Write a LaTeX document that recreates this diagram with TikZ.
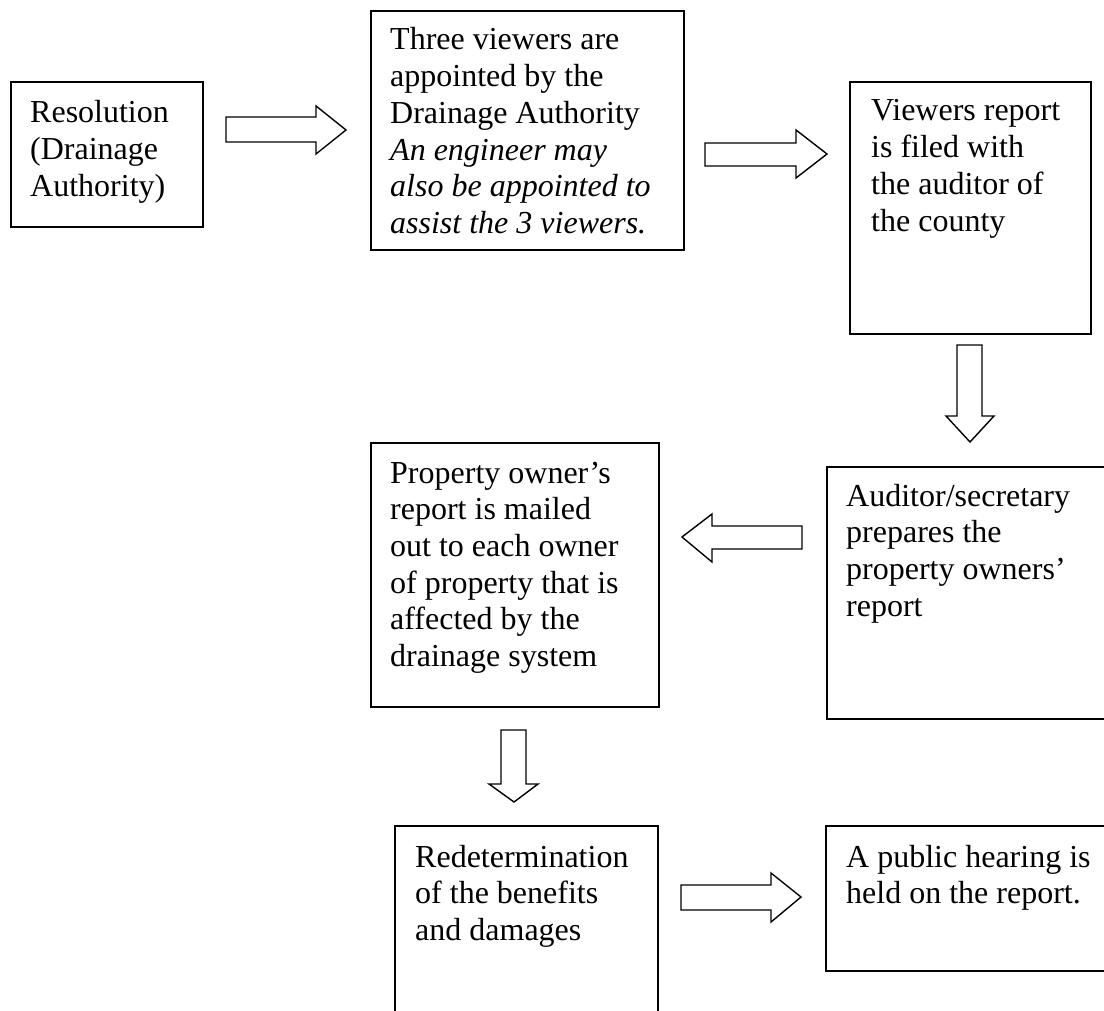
\documentclass[tikz,border=0pt]{standalone}
\usepackage{fontspec}
\setmainfont{Liberation Serif}
\begin{document}
\begin{tikzpicture}[x=1pt,y=-1pt,
  boxstyle/.style={draw, line width=1.6pt, inner sep=0pt, anchor=north west},
  txtstyle/.style={anchor=base west, inner sep=0pt, font=\fontsize{32}{36.7}\selectfont},
  blockarrow/.style={draw, line width=1.4pt, fill=white, line join=miter}]
\useasboundingbox (0,0) rectangle (1104,1011);
\clip (0,0) rectangle (1104,1011);
% boxes
\node[boxstyle, minimum width=192pt, minimum height=145pt] (b1) at (10,81) {};
\node[boxstyle, minimum width=313pt, minimum height=239pt] (b2) at (370,10) {};
\node[boxstyle, minimum width=241pt, minimum height=252pt] (b3) at (849,81) {};
\node[boxstyle, minimum width=288pt, minimum height=264pt] (b4) at (370,442) {};
\node[boxstyle, minimum width=290pt, minimum height=252pt] (b5) at (826,466) {};
\node[boxstyle, minimum width=263pt, minimum height=240pt] (b6) at (394,825) {};
\node[boxstyle, minimum width=290pt, minimum height=145pt] (b7) at (825,825) {};
% texts
\newcommand{\lines}[1]{\begin{tabular}[t]{@{}l@{}}#1\end{tabular}}
\node[txtstyle] (t1) at (30,123) {\lines{Resolution\\(Drainage\\Authority)}};
\node[txtstyle] (t2) at (390,50) {\lines{Three viewers are\\appointed by the\\Drainage Authority\\\textit{An engineer may}\\\textit{also be appointed to}\\\textit{assist the 3 viewers.}}};
\node[txtstyle] (t3) at (871,121) {\lines{Viewers report\\is filed with\\the auditor of\\the county}};
\node[txtstyle] (t4) at (390,483) {\lines{Property owner’s\\report is mailed\\out to each owner\\of property that is\\affected by the\\drainage system}};
\node[txtstyle] (t5) at (846,506) {\lines{Auditor/secretary\\prepares the\\property owners’\\report}};
\node[txtstyle] (t6) at (415,867) {\lines{Redetermination\\of the benefits\\and damages}};
\node[txtstyle] (t7) at (846,867) {\lines{A public hearing is\\held on the report.}};
% block arrows
\draw[blockarrow] (226,117) -- (316,117) -- (316,106) -- (346,130) -- (316,154) -- (316,142) -- (226,142) -- cycle;
\draw[blockarrow] (705,143) -- (796,143) -- (796,130) -- (827,154) -- (796,178) -- (796,166) -- (705,166) -- cycle;
\draw[blockarrow] (957,345) -- (982,345) -- (982,416) -- (994,416) -- (970,442) -- (946,416) -- (957,416) -- cycle;
\draw[blockarrow] (802,526) -- (712,526) -- (712,514) -- (682,537) -- (712,562) -- (712,549) -- (802,549) -- cycle;
\draw[blockarrow] (501,730) -- (526,730) -- (526,784) -- (538,784) -- (514,802) -- (489,784) -- (501,784) -- cycle;
\draw[blockarrow] (681,885) -- (771,885) -- (771,873) -- (801,897) -- (771,922) -- (771,910) -- (681,910) -- cycle;
\end{tikzpicture}
\end{document}
